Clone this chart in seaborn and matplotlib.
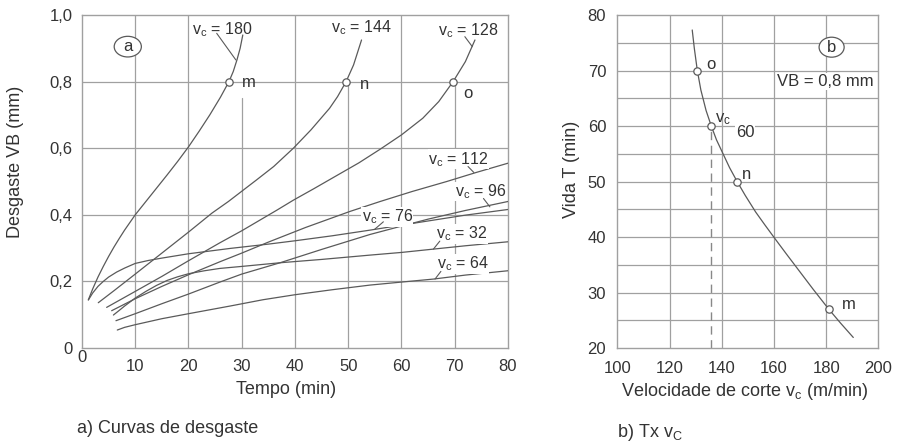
import matplotlib
matplotlib.use('Agg')
import matplotlib.pyplot as plt
import seaborn as sns
import pandas as pd
from matplotlib.patches import Ellipse

sns.set_theme(style='white')
plt.rcParams['font.family'] = ['Liberation Sans', 'DejaVu Sans']
plt.rcParams['mathtext.fontset'] = 'custom'
plt.rcParams['mathtext.rm'] = 'Liberation Sans'
plt.rcParams['mathtext.it'] = 'Liberation Sans'
plt.rcParams['mathtext.bf'] = 'Liberation Sans:bold'
plt.rcParams['mathtext.default'] = 'regular'

# ---------------- data: (a) wear curves ----------------
vc180_t = [1.2, 2, 3, 4, 5, 6, 7, 8, 9, 10, 12, 14, 16, 18, 20, 22, 24, 26, 27.6, 28.4, 29.1, 29.7, 30.2]
vc180_vb = [0.145, 0.177, 0.213, 0.245, 0.275, 0.303, 0.329, 0.354, 0.377, 0.40, 0.44, 0.48, 0.52, 0.561,
            0.604, 0.651, 0.70, 0.753, 0.80, 0.83, 0.865, 0.90, 0.94]
vc144_t = [3.06, 6, 10, 15, 20, 24.4, 27.5, 32.8, 36, 39.7, 43, 46.5, 48, 49.6, 51, 52.5]
vc144_vb = [0.136, 0.172, 0.222, 0.285, 0.348, 0.405, 0.44, 0.505, 0.545, 0.60, 0.655, 0.72, 0.755, 0.80, 0.85, 0.925]
vc128_t = [4.63, 10, 15, 20, 25.9, 30, 36.6, 39.7, 43.5, 47.2, 52, 56, 60, 64, 67, 69.7, 72, 73.8]
vc128_vb = [0.122, 0.17, 0.215, 0.262, 0.316, 0.352, 0.414, 0.444, 0.478, 0.512, 0.556, 0.597, 0.64, 0.69, 0.74,
            0.80, 0.86, 0.925]
vc112_t = [5.57, 10, 15, 20, 25.9, 30, 35, 42, 50.3, 56, 62, 68.5, 74, 80]
vc112_vb = [0.112, 0.148, 0.185, 0.22, 0.259, 0.285, 0.318, 0.362, 0.41, 0.44, 0.47, 0.50, 0.527, 0.555]
vc96_t = [6.38, 10, 15, 20, 25.9, 30, 37.2, 45, 54.1, 60, 65, 72, 80]
vc96_vb = [0.082, 0.103, 0.133, 0.162, 0.198, 0.222, 0.256, 0.296, 0.341, 0.366, 0.387, 0.413, 0.44]
vc76_t = [1.19, 2, 3, 4, 5, 6.5, 8, 10, 12.5, 15, 20, 27.8, 35, 40, 47, 54.1, 60, 66, 72, 80]
vc76_vb = [0.144, 0.165, 0.185, 0.2, 0.213, 0.228, 0.24, 0.254, 0.263, 0.27, 0.283, 0.299, 0.312, 0.322, 0.337,
           0.354, 0.369, 0.384, 0.399, 0.416]
vc32_t = [5.9, 7, 8, 10, 12, 14, 16, 18, 20, 23, 25.9, 30, 37.2, 45, 54.1, 60, 66, 72, 80]
vc32_vb = [0.099, 0.113, 0.126, 0.15, 0.17, 0.188, 0.203, 0.214, 0.223, 0.232, 0.239, 0.245, 0.256, 0.266, 0.279,
           0.287, 0.297, 0.307, 0.319]
vc64_t = [6.63, 8, 10, 15, 20, 27.8, 34, 40, 47, 54.1, 60, 66, 72, 80]
vc64_vb = [0.054, 0.062, 0.07, 0.088, 0.103, 0.126, 0.145, 0.16, 0.175, 0.189, 0.198, 0.207, 0.219, 0.232]

curves = {180: (vc180_t, vc180_vb), 144: (vc144_t, vc144_vb), 128: (vc128_t, vc128_vb),
          112: (vc112_t, vc112_vb), 96: (vc96_t, vc96_vb), 76: (vc76_t, vc76_vb),
          32: (vc32_t, vc32_vb), 64: (vc64_t, vc64_vb)}

# points where VB = 0.8 mm
pt_names = ['m', 'n', 'o']
pt_t = [27.6, 49.6, 69.7]
pt_vb = [0.8, 0.8, 0.8]

x_ticks_a = [0, 10, 20, 30, 40, 50, 60, 70, 80]
y_ticks_a = [0, 0.2, 0.4, 0.6, 0.8, 1.0]
y_ticklabels_a = ['0', '0,2', '0,4', '0,6', '0,8', '1,0']

# ---------------- data: (b) tool life ----------------
b_vc = [128.7, 129.5, 130.65, 132, 134, 136, 138, 140.2, 143, 145.9, 149, 153, 156.5, 160.4, 165, 170, 175, 181, 185.5, 190.4]
b_T = [77.3, 74, 70, 66.5, 62.8, 60, 57.5, 55.3, 52.5, 50, 47.5, 44.5, 42.2, 39.7, 36.8, 33.7, 30.6, 27, 24.5, 21.9]
b_pt_names = ['o', '', 'n', 'm']
b_pt_vc = [130.65, 136, 145.9, 181]
b_pt_T = [70, 60, 50, 27]
x_ticks_b = [100, 120, 140, 160, 180, 200]
y_ticks_b = [20, 30, 40, 50, 60, 70, 80]

LINE = '#5a5a5a'
GRID = '#a0a0a0'
TXT = '#333333'

fig = plt.figure(figsize=(8.97, 4.44), dpi=100)
axa = fig.add_axes([0.0914, 0.2162, 0.4749, 0.75])
axb = fig.add_axes([0.6882, 0.2162, 0.2910, 0.75])

# ---------- panel a ----------
rows = []
for vc, (ts, vbs) in curves.items():
    for t, vb in zip(ts, vbs):
        rows.append({'vc': str(vc), 't': t, 'vb': vb})
dfa = pd.DataFrame(rows)
sns.lineplot(data=dfa, x='t', y='vb', hue='vc', units='vc', estimator=None, sort=False,
             palette={str(k): LINE for k in curves}, legend=False, lw=0.9, ax=axa, zorder=3)

axa.set_xlim(0, 80)
axa.set_ylim(0, 1.0)
for xv in [10, 20, 40, 60]:
    axa.axvline(xv, color=GRID, lw=0.9, zorder=1)
axa.axvline(30, ymin=0, ymax=0.75, color=GRID, lw=0.9, zorder=1)
axa.axvline(50, ymin=0, ymax=0.8, color=GRID, lw=0.9, zorder=1)
axa.axvline(70, ymin=0, ymax=0.8, color=GRID, lw=0.9, zorder=1)
for yv in [0.2, 0.4, 0.6, 0.8]:
    axa.axhline(yv, color=GRID, lw=0.9, zorder=1)

sns.scatterplot(x=pt_t, y=pt_vb, s=28, facecolor='white', edgecolor=LINE, linewidth=0.9, ax=axa, zorder=5)
pt_lbl_pos = [(30.0, 0.797), (52.2, 0.79), (71.6, 0.765)]
for name, (lx, ly) in zip(pt_names, pt_lbl_pos):
    axa.text(lx, ly, name, fontsize=12, color=TXT, ha='left', va='center')

lbl_pos = {180: (20.6, 0.957), 144: (46.7, 0.962), 128: (66.9, 0.952), 112: (65.0, 0.567),
           96: (70.0, 0.470), 76: (52.5, 0.393), 32: (66.5, 0.343), 64: (66.7, 0.252)}
leaders = {180: ((25.3, 0.945), (28.9, 0.865)), 128: ((71.9, 0.935), (73.3, 0.905)),
           112: ((72.5, 0.545), (73.6, 0.527)), 96: ((75.4, 0.449), (76.6, 0.424)),
           76: ((56.6, 0.379), (55.0, 0.357)), 32: ((67.2, 0.321), (66.0, 0.297)),
           64: ((67.4, 0.230), (66.3, 0.207))}
for vc, (lx, ly) in lbl_pos.items():
    kw = {}
    if vc in (112, 96, 76, 32, 64):
        kw['bbox'] = dict(facecolor='white', edgecolor='none', pad=0.3)
    axa.text(lx, ly, f'$v_c$ = {vc}', fontsize=11.5, color=TXT, ha='left', va='center', zorder=6, **kw)
for vc, (p0, p1) in leaders.items():
    axa.plot([p0[0], p1[0]], [p0[1], p1[1]], color=LINE, lw=0.8, zorder=6)

axa.add_patch(Ellipse((8.6, 0.905), 5.1, 0.062, facecolor='white', edgecolor=LINE, lw=0.9, zorder=6))
axa.text(8.6, 0.905, 'a', fontsize=12, color=TXT, ha='center', va='center', zorder=7)

axa.set_xticks(x_ticks_a)
axa.set_xticklabels([''] + [str(v) for v in x_ticks_a[1:]])
axa.text(0, -0.005, '0', transform=axa.get_xaxis_transform(), fontsize=12, color=TXT,
         ha='center', va='top')
axa.set_yticks(y_ticks_a)
axa.set_yticklabels(y_ticklabels_a)
axa.tick_params(axis='x', length=0, pad=8, labelsize=12, labelcolor=TXT)
axa.tick_params(axis='y', length=0, pad=7, labelsize=12, labelcolor=TXT)
axa.set_xlabel('Tempo (min)', fontsize=13, color=TXT)
axa.set_ylabel('Desgaste VB (mm)', fontsize=13, color=TXT)
axa.xaxis.set_label_coords(0.479, -0.100)
axa.yaxis.set_label_coords(-0.136, 0.56)

# ---------- panel b ----------
dfb = pd.DataFrame({'vc': b_vc, 'T': b_T})
sns.lineplot(data=dfb, x='vc', y='T', sort=False, estimator=None, color=LINE, lw=0.9, ax=axb, zorder=3)
axb.set_xlim(100, 200)
axb.set_ylim(20, 80)
for xv in [120, 140, 160, 180]:
    axb.axvline(xv, color=GRID, lw=0.9, zorder=1)
for yv in [25, 30, 35, 40, 45, 50, 55, 60, 65, 70, 75]:
    axb.axhline(yv, color=GRID, lw=0.9, zorder=1)
axb.plot([b_pt_vc[1], b_pt_vc[1]], [20, b_pt_T[1]], color='#888888', lw=1.0, ls=(0, (6, 4)), zorder=2)
sns.scatterplot(x=b_pt_vc, y=b_pt_T, s=28, facecolor='white', edgecolor=LINE, linewidth=0.9, ax=axb, zorder=5)
b_lbl_pos = [(134.0, 71.0), None, (147.7, 51.3), (186.0, 27.9)]
for name, pos in zip(b_pt_names, b_lbl_pos):
    if pos is not None:
        axb.text(pos[0], pos[1], name, fontsize=12, color=TXT, ha='left', va='center', zorder=6)
axb.text(137.3, 61.3, '$v_c$', fontsize=12, color=TXT, ha='left', va='center', zorder=6)
axb.text(145.4, 58.8, '60', fontsize=12, color=TXT, ha='left', va='center', zorder=6,
         bbox=dict(facecolor='white', edgecolor='none', pad=0.5))
axb.text(161.0, 68.0, 'VB = 0,8 mm', fontsize=12, color=TXT, ha='left', va='center', zorder=6,
         bbox=dict(facecolor='white', edgecolor='none', pad=0.5))
axb.add_patch(Ellipse((182.1, 74.2), 9.6, 3.6, facecolor='white', edgecolor=LINE, lw=0.9, zorder=6))
axb.text(182.1, 74.2, 'b', fontsize=12, color=TXT, ha='center', va='center', zorder=7)

axb.set_xticks(x_ticks_b)
axb.set_yticks(y_ticks_b)
axb.tick_params(axis='x', length=0, pad=9, labelsize=12, labelcolor=TXT)
axb.tick_params(axis='y', length=0, pad=8, labelsize=12, labelcolor=TXT)
axb.set_xlabel('Velocidade de corte $v_c$ (m/min)', fontsize=13, color=TXT)
axb.set_ylabel('Vida T (min)', fontsize=13, color=TXT)
axb.xaxis.set_label_coords(0.489, -0.100)
axb.yaxis.set_label_coords(-0.143, 0.535)

for ax in (axa, axb):
    for s in ax.spines.values():
        s.set_color(GRID)
        s.set_linewidth(1.0)
        s.set_visible(True)

fig.text(0.0858, 0.036, 'a) Curvas de desgaste', fontsize=13, color=TXT, ha='left', va='center')
fig.text(0.688, 0.025, 'b) Tx $v_C$', fontsize=13, color=TXT, ha='left', va='center')

fig.savefig('out.png', dpi=100, facecolor='white')
